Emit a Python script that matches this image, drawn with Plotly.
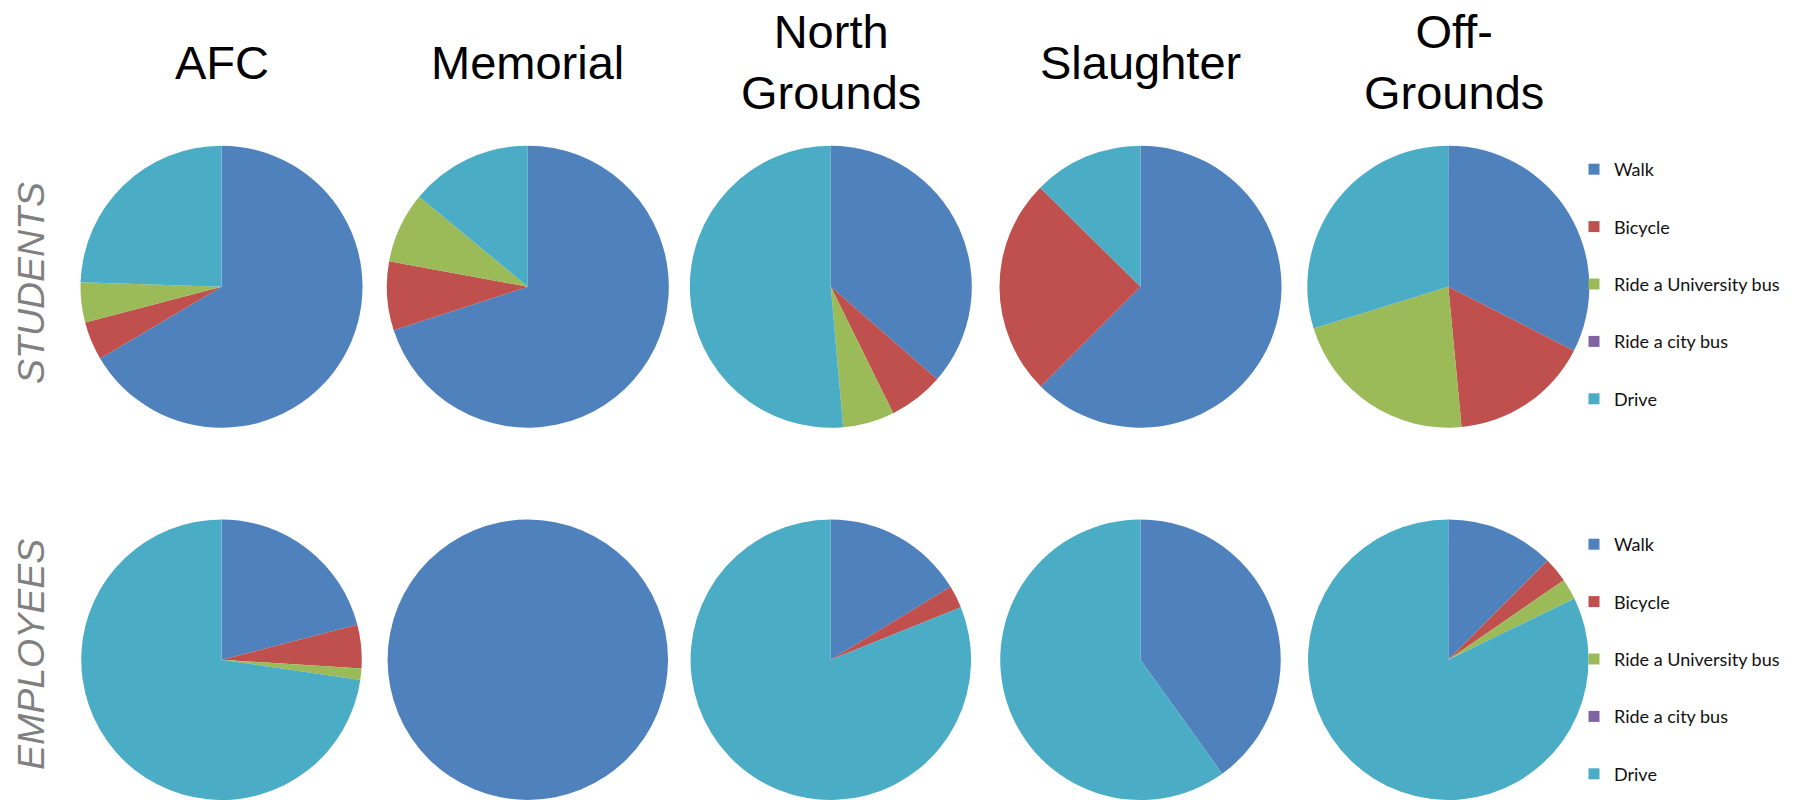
import plotly.graph_objects as go

# Sites (columns) and commute modes (slices)
sites = ["AFC", "Memorial", "North<br>Grounds", "Slaughter", "Off-<br>Grounds"]
modes = ["Walk", "Bicycle", "Ride a University bus", "Ride a city bus", "Drive"]
mode_colors = ["#4F81BD", "#C0504D", "#9BBB59", "#8064A2", "#4BACC6"]
row_labels = ["STUDENTS", "EMPLOYEES"]

# Students: share (%) of each mode per site
student_walk = [66.5, 70.0, 36.4, 62.5, 32.5]
student_bicycle = [4.4, 7.9, 6.3, 24.9, 16.0]
student_univ_bus = [4.6, 8.1, 5.9, 0.0, 21.7]
student_city_bus = [0.0, 0.0, 0.0, 0.0, 0.0]
student_drive = [24.5, 14.0, 51.4, 12.6, 29.8]

# Employees: share (%) of each mode per site
employee_walk = [21.0, 100.0, 16.3, 40.1, 12.5]
employee_bicycle = [5.0, 0.0, 2.6, 0.0, 2.9]
employee_univ_bus = [1.3, 0.0, 0.0, 0.0, 2.4]
employee_city_bus = [0.0, 0.0, 0.0, 0.0, 0.0]
employee_drive = [72.7, 0.0, 81.1, 59.9, 82.2]

W, H = 1799, 800
centers_x = [221.5, 527.8, 830.8, 1140.5, 1448.3]
title_x = [221.5, 527.8, 830.8, 1140.5, 1454.0]
radius = 141
row_domains_y = [(1 - 427.7 / H, 1 - 145.7 / H), (0.0, 1 - 519.5 / H)]

rows = [
    [student_walk, student_bicycle, student_univ_bus, student_city_bus, student_drive],
    [employee_walk, employee_bicycle, employee_univ_bus, employee_city_bus, employee_drive],
]

fig = go.Figure()

for r, series in enumerate(rows):
    y0, y1 = row_domains_y[r]
    for c in range(len(sites)):
        values = [s[c] for s in series]
        cx = centers_x[c]
        fig.add_trace(go.Pie(
            labels=modes,
            values=values,
            sort=False,
            direction="clockwise",
            rotation=0,
            textinfo="none",
            hoverinfo="label+percent",
            marker=dict(colors=mode_colors, line=dict(width=0)),
            domain=dict(x=[(cx - radius) / W, (cx + radius) / W], y=[y0, y1]),
            showlegend=False,
        ))

# Legend entries for each row
for r, leg in enumerate(["legend", "legend2"]):
    for m, col in zip(modes, mode_colors):
        fig.add_trace(go.Scatter(
            x=[None], y=[None], mode="markers", name=m,
            marker=dict(symbol="square", size=11, color=col),
            legend=leg, legendgroup=f"{leg}-{m}", showlegend=True,
        ))

legend_style = dict(
    font=dict(family="Lato, Carlito, sans-serif", size=18, color="#111111"),
    bgcolor="rgba(0,0,0,0)", borderwidth=0, tracegroupgap=31,
    xanchor="left", yanchor="top", itemwidth=30,
)

annotations = []
for c, name in enumerate(sites):
    annotations.append(dict(
        text=name, x=title_x[c] / W, y=1 - 62 / H, xref="paper", yref="paper",
        xanchor="center", yanchor="middle", showarrow=False,
        font=dict(family="Liberation Sans, Arial, sans-serif", size=47, color="#000000"),
    ))
for label, cy in zip(row_labels, [283, 655]):
    annotations.append(dict(
        text=f"<i>{label}</i>", x=31 / W, y=1 - cy / H, xref="paper", yref="paper",
        xanchor="center", yanchor="middle", showarrow=False, textangle=-90,
        font=dict(family="Liberation Sans, Arial, sans-serif", size=37.5, color="#808080"),
    ))

fig.update_layout(
    width=W, height=H,
    margin=dict(l=0, r=0, t=0, b=0),
    paper_bgcolor="white", plot_bgcolor="white",
    xaxis=dict(visible=False), yaxis=dict(visible=False),
    legend=dict(x=1574 / W, y=1 - 151 / H, **legend_style),
    legend2=dict(x=1574 / W, y=1 - 526 / H, **legend_style),
    annotations=annotations,
)

fig.write_html("out.html")
